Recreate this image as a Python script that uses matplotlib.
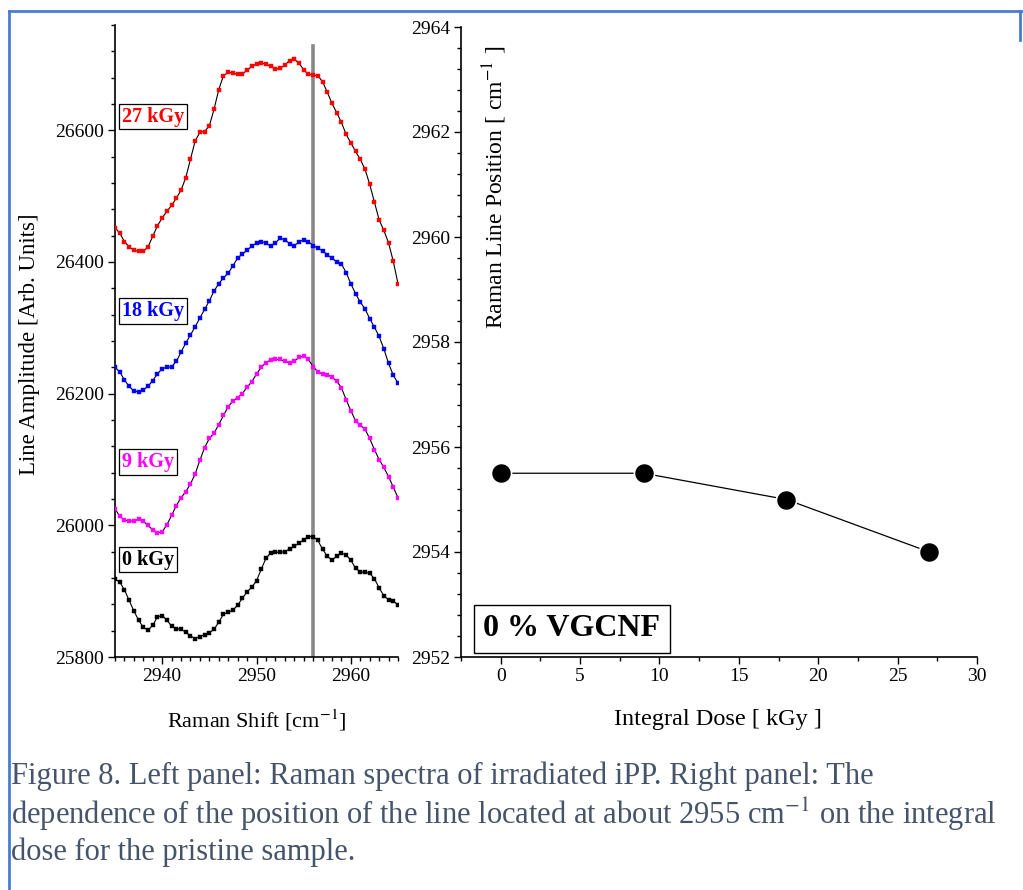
import numpy as np
import matplotlib
matplotlib.use("Agg")
import matplotlib.pyplot as plt
from matplotlib.ticker import MultipleLocator
from matplotlib.lines import Line2D

plt.rcParams['font.family'] = ['Liberation Serif', 'DejaVu Serif']
plt.rcParams['mathtext.fontset'] = 'stix'

# Raman spectra, sampled every 0.5 cm-1 from 2935 to 2965
shift = np.arange(2935.0, 2965.01, 0.5)

amp_0 = [25918, 25914, 25902, 25886, 25870, 25856, 25845, 25841, 25848, 25861,
         25863, 25856, 25847, 25843, 25842, 25838, 25832, 25828, 25831, 25834,
         25837, 25842, 25853, 25865, 25868, 25871, 25879, 25889, 25899, 25906,
         25916, 25933, 25950, 25958, 25959, 25959, 25960, 25964, 25968, 25973,
         25978, 25983, 25983, 25977, 25964, 25953, 25947, 25953, 25958, 25955,
         25947, 25935, 25929, 25929, 25927, 25919, 25905, 25893, 25887, 25885,
         25879]
amp_9 = [26025, 26014, 26008, 26006, 26007, 26009, 26006, 26000, 25993, 25989,
         25990, 26001, 26015, 26030, 26042, 26051, 26063, 26078, 26099, 26118,
         26132, 26140, 26153, 26167, 26180, 26189, 26194, 26200, 26210, 26218,
         26230, 26240, 26247, 26251, 26252, 26252, 26249, 26247, 26249, 26255,
         26257, 26252, 26241, 26233, 26230, 26229, 26225, 26219, 26209, 26191,
         26174, 26159, 26152, 26146, 26132, 26115, 26100, 26088, 26074, 26058,
         26042]
amp_18 = [26240, 26233, 26221, 26211, 26204, 26203, 26206, 26211, 26220, 26230,
          26238, 26240, 26241, 26249, 26263, 26277, 26289, 26302, 26315, 26328,
          26341, 26356, 26367, 26376, 26383, 26394, 26406, 26412, 26418, 26424,
          26429, 26431, 26429, 26424, 26429, 26436, 26434, 26428, 26425, 26430,
          26434, 26431, 26425, 26421, 26417, 26411, 26406, 26400, 26397, 26384,
          26367, 26352, 26339, 26329, 26314, 26301, 26287, 26268, 26246, 26228,
          26216]
amp_27 = [26452, 26444, 26431, 26423, 26418, 26416, 26416, 26423, 26439, 26455,
          26467, 26477, 26486, 26497, 26509, 26528, 26556, 26584, 26597, 26598,
          26607, 26632, 26662, 26683, 26688, 26687, 26685, 26686, 26691, 26697,
          26701, 26702, 26701, 26697, 26693, 26694, 26699, 26706, 26708, 26702,
          26692, 26685, 26684, 26683, 26674, 26658, 26641, 26627, 26612, 26594,
          26581, 26568, 26556, 26541, 26518, 26491, 26464, 26448, 26429, 26401,
          26367]

spectra = [amp_0, amp_9, amp_18, amp_27]
spec_labels = ['0 kGy', '9 kGy', '18 kGy', '27 kGy']
spec_colors = ['black', '#ff00ff', '#0000ff', '#ff0000']
label_y = [25948, 26096, 26326, 26621]

# line position vs dose
dose = [0, 9, 18, 27]
position = [2955.5, 2955.5, 2955.0, 2954.0]

W, H = 1023, 890
fig = plt.figure(figsize=(W / 100, H / 100), dpi=100)

# ---- left panel ----
ax1 = fig.add_axes([115 / W, 1 - 657 / H, 283 / W, 632 / H])
for amp, col in zip(spectra, spec_colors):
    ax1.plot(shift, amp, '-', color='black', lw=0.8, zorder=2)
    ax1.plot(shift, amp, 's', color=col, ms=2.6, mec=col, mew=0.3, zorder=3)
ax1.plot([2956, 2956], [25800, 26728], color='#888888', lw=2.6, zorder=1)
for lab, col, y in zip(spec_labels, spec_colors, label_y):
    ax1.text(2935.75, y, lab, color=col, fontsize=14.5, fontweight='bold',
             va='center', ha='left',
             bbox=dict(boxstyle='square,pad=0.14', fc='white', ec='black', lw=0.9))
ax1.set_xlim(2935, 2965)
ax1.set_ylim(25800, 26760)
ax1.xaxis.set_major_locator(MultipleLocator(10))
ax1.xaxis.set_minor_locator(MultipleLocator(1))
ax1.yaxis.set_major_locator(MultipleLocator(200))
ax1.yaxis.set_minor_locator(MultipleLocator(40))
ax1.spines['top'].set_visible(False)
ax1.spines['right'].set_visible(False)

# ---- right panel ----
ax2 = fig.add_axes([461 / W, 1 - 657 / H, 516 / W, 630 / H])
ax2.plot(dose, position, '-', color='black', lw=0.9)
ax2.plot(dose, position, 'o', color='black', ms=14.5, mec='white', mew=1.2)
ax2.set_xlim(-2.5, 30)
ax2.set_ylim(2952, 2964)
ax2.xaxis.set_major_locator(MultipleLocator(5))
ax2.xaxis.set_minor_locator(MultipleLocator(2.5))
ax2.yaxis.set_major_locator(MultipleLocator(2))
ax2.yaxis.set_minor_locator(MultipleLocator(0.4))
ax2.spines['top'].set_visible(False)
ax2.spines['right'].set_visible(False)
ax2.text(4.47, 2952.54, '0 % VGCNF', fontsize=23, fontweight='bold',
         ha='center', va='center',
         bbox=dict(boxstyle='square,pad=0.3', fc='white', ec='black', lw=1.0))
ax2.text(0.066, 0.745, 'Raman Line Position [ cm$^{-1}$ ]', transform=ax2.transAxes,
         rotation=90, ha='center', va='center', fontsize=17)

for ax in (ax1, ax2):
    ax.tick_params(which='major', direction='out', length=5, width=1,
                   labelsize=14, pad=3)
    ax.tick_params(which='minor', direction='out', length=3, width=1)
    for s in ('left', 'bottom'):
        ax.spines[s].set_linewidth(1.2)

fig.text(30 / W, 1 - 344 / H, 'Line Amplitude [Arb. Units]', rotation=90,
         ha='center', va='center', fontsize=16.5)
fig.text(257 / W, 1 - 720 / H, 'Raman Shift [cm$^{-1}$]',
         ha='center', va='center', fontsize=16)
fig.text(718 / W, 1 - 720 / H, 'Integral Dose [ kGy ]',
         ha='center', va='center', fontsize=17.5)

cap_color = '#46546b'
caption = ['Figure 8. Left panel: Raman spectra of irradiated iPP. Right panel: The',
           'dependence of the position of the line located at about 2955 cm$^{-1}$ on the integral',
           'dose for the pristine sample.']
for k, line in enumerate(caption):
    fig.text(11 / W, 1 - (776 + 38 * k) / H, line, ha='left', va='center',
             fontsize=22, color=cap_color)

# blue frame around the figure
fig.add_artist(Line2D([9 / W, 9 / W], [0, 1 - 11 / H], transform=fig.transFigure,
                      color='#4a7bd0', lw=2))
fig.add_artist(Line2D([9 / W, 1], [1 - 11 / H, 1 - 11 / H], transform=fig.transFigure,
                      color='#4a7bd0', lw=2))
fig.add_artist(Line2D([1 - 3 / W, 1 - 3 / W], [1 - 11 / H, 1 - 40 / H],
                      transform=fig.transFigure, color='#4a7bd0', lw=2))

fig.savefig('out.png', dpi=100)
